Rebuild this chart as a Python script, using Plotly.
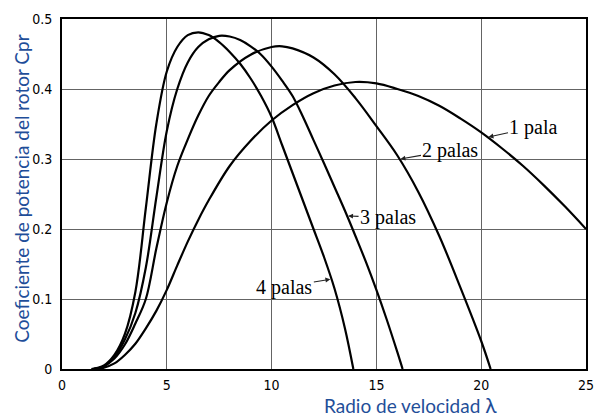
import numpy as np
import plotly.graph_objects as go

# ---- data ----
x_1pala = [1.5, 2.0, 2.5, 3.0, 3.5, 4.0, 4.5, 5.0, 5.5, 6.0, 6.5, 7.0, 8.0, 9.0, 10.0, 11.0, 12.0, 13.0, 14.0, 15.0, 16.0, 17.0, 18.0, 19.0, 20.0, 21.0, 22.0, 23.0, 24.0, 25.0]
y_1pala = [0.0, 0.002, 0.008, 0.02, 0.036, 0.058, 0.083, 0.113, 0.148, 0.182, 0.213, 0.241, 0.29, 0.326, 0.355, 0.377, 0.394, 0.405, 0.41, 0.408, 0.4, 0.39, 0.376, 0.358, 0.338, 0.315, 0.29, 0.262, 0.232, 0.2]

x_2palas = [1.5, 2.0, 2.5, 3.0, 3.5, 4.0, 4.5, 5.0, 5.5, 6.0, 6.5, 7.0, 7.5, 8.0, 9.0, 10.0, 10.5, 11.0, 12.0, 13.0, 14.0, 15.0, 16.0, 17.0, 18.0, 19.0, 20.0, 20.45]
y_2palas = [0.0, 0.004, 0.015, 0.035, 0.065, 0.1, 0.172, 0.238, 0.29, 0.328, 0.362, 0.39, 0.41, 0.427, 0.449, 0.46, 0.461, 0.458, 0.445, 0.421, 0.387, 0.347, 0.305, 0.253, 0.19, 0.117, 0.04, 0.0]

x_3palas = [1.5, 2.0, 2.5, 3.0, 3.5, 4.0, 4.5, 5.0, 5.5, 6.0, 6.5, 7.0, 7.5, 8.0, 8.5, 9.0, 9.5, 10.0, 10.5, 11.0, 11.5, 12.0, 12.5, 13.0, 13.5, 14.0, 14.5, 15.0, 15.5, 16.0, 16.25]
y_3palas = [0.0, 0.004, 0.017, 0.042, 0.08, 0.145, 0.245, 0.34, 0.4, 0.438, 0.46, 0.471, 0.476, 0.475, 0.47, 0.461, 0.449, 0.432, 0.412, 0.39, 0.36, 0.327, 0.294, 0.26, 0.226, 0.19, 0.153, 0.113, 0.07, 0.024, 0.0]

x_4palas = [1.4, 2.0, 2.5, 3.0, 3.5, 4.0, 4.5, 5.0, 5.5, 6.0, 6.5, 7.0, 7.5, 8.0, 8.5, 9.0, 9.5, 10.0, 10.5, 11.0, 11.5, 12.0, 12.5, 13.0, 13.5, 13.9]
y_4palas = [0.0, 0.005, 0.02, 0.05, 0.11, 0.23, 0.35, 0.425, 0.46, 0.477, 0.481, 0.477, 0.467, 0.453, 0.436, 0.415, 0.39, 0.36, 0.32, 0.28, 0.24, 0.2, 0.16, 0.115, 0.058, 0.0]

labels = ["1 pala", "2 palas", "3 palas", "4 palas"]
x_ticks = [0, 5, 10, 15, 20, 25]
y_ticks = [0, 0.1, 0.2, 0.3, 0.4, 0.5]
y_ticktext = ["0", "0.1", "0.2", "0.3", "0.4", "0.5"]

series = [(x_1pala, y_1pala), (x_2palas, y_2palas), (x_3palas, y_3palas), (x_4palas, y_4palas)]

# label placement (arrow tip x on curve, text offset in px)
label_tip_x = [20.3, 16.1, 13.6, 12.85]
label_offset = [(46, -10), (51, -9), (41, 2), (-47, 8)]

fig = go.Figure()
for (xs, ys), name in zip(series, labels):
    fig.add_trace(go.Scatter(x=xs, y=ys, mode="lines", name=name,
                             line=dict(color="black", width=2.2, shape="spline", smoothing=1.0),
                             showlegend=False, hoverinfo="skip"))

for (xs, ys), name, tx, (ax, ay) in zip(series, labels, label_tip_x, label_offset):
    ty = float(np.interp(tx, xs, ys))
    fig.add_annotation(x=tx, y=ty, xref="x", yref="y", text=name, showarrow=True,
                       arrowhead=2, arrowsize=0.9, arrowwidth=1.1, arrowcolor="#222",
                       ax=ax, ay=ay, standoff=1,
                       font=dict(family="Liberation Serif, Times New Roman, serif", size=20, color="black"))

tick_font = dict(family="Liberation Sans Narrow, DejaVu Sans Condensed, Roboto Condensed, sans-serif", size=14, color="#000")
grid_col = "#646464"

fig.update_xaxes(range=[0, 25], tickvals=x_ticks, ticktext=[str(v) for v in x_ticks],
                 showgrid=True, gridcolor=grid_col, gridwidth=1,
                 showline=True, linecolor="black", linewidth=2, mirror=True,
                 ticks="outside", ticklen=2, tickcolor="rgba(0,0,0,0)",
                 zeroline=False, tickfont=tick_font, automargin=False,
                 ticklabeloverflow="allow")
fig.update_yaxes(range=[0, 0.5], tickvals=y_ticks, ticktext=y_ticktext,
                 showgrid=True, gridcolor=grid_col, gridwidth=1,
                 showline=True, linecolor="black", linewidth=2, mirror=True,
                 ticks="outside", ticklen=5, tickcolor="rgba(0,0,0,0)",
                 zeroline=False, tickfont=tick_font, automargin=False,
                 ticklabeloverflow="allow")

title_col = "#1f4e99"
fig.add_annotation(xref="paper", yref="paper", x=-0.079, y=0.514, textangle=-90,
                   text="Coeficiente de potencia del rotor Cpr", showarrow=False,
                   xanchor="center", yanchor="middle",
                   font=dict(family="Lato, Open Sans, sans-serif", size=19, color=title_col))
fig.add_annotation(xref="paper", yref="paper", x=0.665, y=-0.102,
                   text="Radio de velocidad <span style='font-size:21px'>λ</span>", showarrow=False,
                   xanchor="center", yanchor="middle",
                   font=dict(family="Lato, Open Sans, sans-serif", size=19, color=title_col))

fig.update_layout(width=594, height=418, margin=dict(l=62, r=8, t=19, b=49, autoexpand=False),
                  paper_bgcolor="white", plot_bgcolor="white")

fig.write_html("out.html")
